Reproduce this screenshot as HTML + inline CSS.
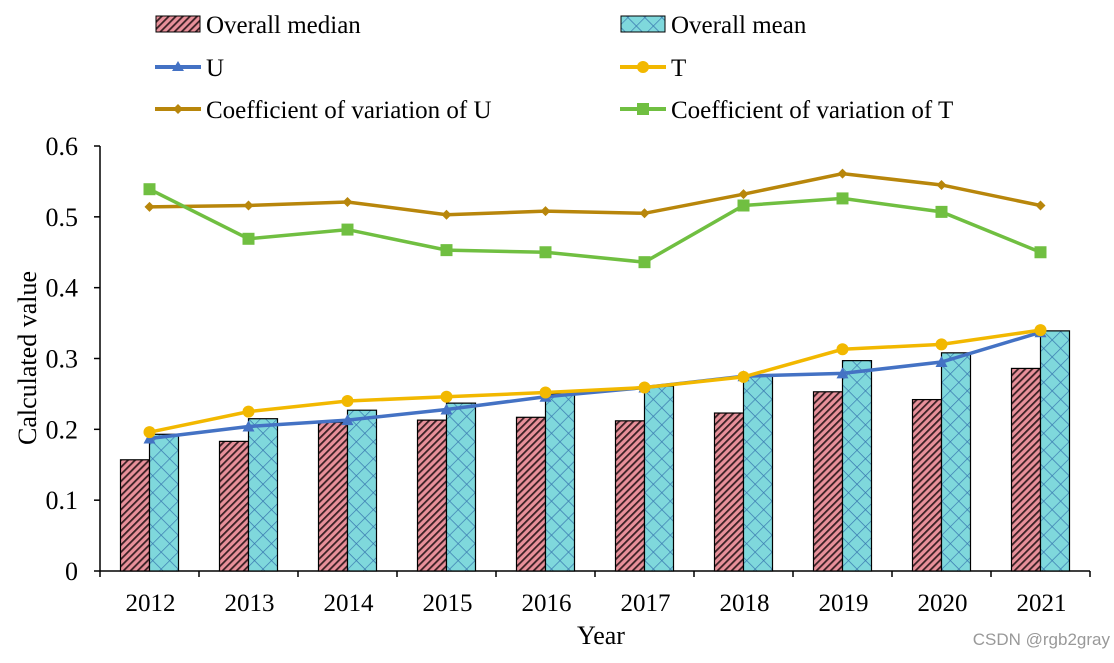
<!DOCTYPE html>
<html><head><meta charset="utf-8"><style>
body{margin:0;background:#fff;}
svg text{font-family:"Liberation Serif",serif;fill:#000;}
</style></head><body>
<svg id="chart" width="1114" height="658" xmlns="http://www.w3.org/2000/svg">
<defs>
<pattern id="diag" width="5" height="5" patternUnits="userSpaceOnUse" patternTransform="rotate(45)">
<rect width="5" height="5" fill="#e8909a"/><rect width="1.8" height="5" fill="#3a2024"/></pattern>
<pattern id="cross" width="12" height="12" patternUnits="userSpaceOnUse" patternTransform="rotate(45)">
<rect width="12" height="12" fill="#7fd8dc"/><path d="M0 0V12M0 0H12" stroke="#3a7ab0" stroke-width="1.4"/></pattern>
</defs>
<g id="plot"></g>
<text x="601" y="644" font-size="26" text-anchor="middle">Year</text>
<text transform="translate(36,358) rotate(-90)" font-size="26" text-anchor="middle">Calculated value</text>
<g>
<rect x="156" y="16" width="44" height="16" fill="url(#diag)" stroke="#000"/>
<text x="206" y="33" font-size="25">Overall median</text>
<rect x="621" y="16" width="44" height="16" fill="url(#cross)" stroke="#000"/>
<text x="671" y="33" font-size="25">Overall mean</text>
<line x1="155" y1="67" x2="201" y2="67" stroke="#4472c4" stroke-width="4"/>
<path d="M178 61 L184 71 L172 71Z" fill="#4472c4"/>
<text x="206" y="76" font-size="25">U</text>
<line x1="620" y1="67" x2="666" y2="67" stroke="#f2b800" stroke-width="4"/>
<circle cx="643" cy="67" r="6" fill="#f2b800"/>
<text x="671" y="76" font-size="25">T</text>
<line x1="155" y1="109" x2="201" y2="109" stroke="#b8860b" stroke-width="4"/>
<path d="M178 104 L183 109 L178 114 L173 109Z" fill="#b8860b"/>
<text x="206" y="118" font-size="25">Coefficient of variation of U</text>
<line x1="620" y1="109" x2="666" y2="109" stroke="#70bf41" stroke-width="4"/>
<rect x="637" y="103" width="12" height="12" fill="#70bf41"/>
<text x="671" y="118" font-size="25">Coefficient of variation of T</text>
</g>
<text x="1110" y="645" font-size="17" text-anchor="end" style="font-family:'Liberation Sans',sans-serif;fill:#999">CSDN @rgb2gray</text>
</svg>
<script>
const years=["2012","2013","2014","2015","2016","2017","2018","2019","2020","2021"];
const median=[0.157,0.183,0.210,0.213,0.217,0.212,0.223,0.253,0.242,0.286];
const mean=[0.193,0.215,0.227,0.237,0.250,0.261,0.276,0.297,0.308,0.339];
const uVals=[0.187,0.204,0.213,0.228,0.246,0.259,0.275,0.279,0.295,0.337];
const tVals=[0.196,0.225,0.240,0.246,0.252,0.259,0.274,0.313,0.320,0.340];
const cvU=[0.514,0.516,0.521,0.503,0.508,0.505,0.532,0.561,0.545,0.516];
const cvT=[0.539,0.469,0.482,0.453,0.450,0.436,0.516,0.526,0.507,0.450];
const yTicks=[0,0.1,0.2,0.3,0.4,0.5,0.6];
const NS="http://www.w3.org/2000/svg";
const X0=100,X1=1090,Y0=571,Y1=146;
const band=(X1-X0)/years.length;
const xc=i=>X0+band*(i+0.5);
const y=v=>Y0-(v/0.6)*(Y0-Y1);
const g=document.getElementById('plot');
function mk(t,a){const e=document.createElementNS(NS,t);for(const k in a)e.setAttribute(k,a[k]);g.appendChild(e);return e;}
let ax=mk('line',{x1:X0,y1:Y1,x2:X0,y2:Y0,stroke:'#000','stroke-width':1.5});


let bx=mk('line',{x1:X0,y1:Y0,x2:X1,y2:Y0,stroke:'#000','stroke-width':1.5});


yTicks.forEach(t=>{
 mk('line',{x1:X0-6,y1:y(t),x2:X0,y2:y(t),stroke:'#000','stroke-width':1.5});
 const tx=mk('text',{x:X0-22,y:y(t)+9,'font-size':26,'text-anchor':'end'});tx.textContent=t===0?'0':t.toFixed(1);
 
 
});
for(let i=0;i<=years.length;i++)mk('line',{x1:X0+band*i,y1:Y0,x2:X0+band*i,y2:Y0+6,stroke:'#000','stroke-width':1.5});
years.forEach((yr,i)=>{
 const tx=mk('text',{x:xc(i)+1,y:Y0+40,'font-size':25,'text-anchor':'middle'});tx.textContent=yr;
 
 
 const bw=29;
 const r1=mk('rect',{x:xc(i)-bw,y:y(median[i]),width:bw,height:Y0-y(median[i]),fill:'url(#diag)',stroke:'#000','stroke-width':1.2});
 
 
 const r2=mk('rect',{x:xc(i),y:y(mean[i]),width:bw,height:Y0-y(mean[i]),fill:'url(#cross)',stroke:'#000','stroke-width':1.2});
 
 
});
function line(vals,color,marker,name){
 const p=mk('polyline',{points:vals.map((v,i)=>xc(i)+','+y(v)).join(' '),fill:'none',stroke:color,'stroke-width':3.5});
 
 
 vals.forEach((v,i)=>{
  const cx=xc(i),cy=y(v);let m;
  if(marker==='tri')m=mk('path',{d:`M${cx} ${cy-6}L${cx+6} ${cy+5}L${cx-6} ${cy+5}Z`,fill:color});
  else if(marker==='circ')m=mk('circle',{cx:cx,cy:cy,r:6,fill:color});
  else if(marker==='dia')m=mk('path',{d:`M${cx} ${cy-5}L${cx+5} ${cy}L${cx} ${cy+5}L${cx-5} ${cy}Z`,fill:color});
  else m=mk('rect',{x:cx-6,y:cy-6,width:12,height:12,fill:color});
  
  
 });
}
line(uVals,'#4472c4','tri','u');
line(tVals,'#f2b800','circ','t');
line(cvU,'#b8860b','dia','cv-u');
line(cvT,'#70bf41','sq','cv-t');
</script>
</body></html>
